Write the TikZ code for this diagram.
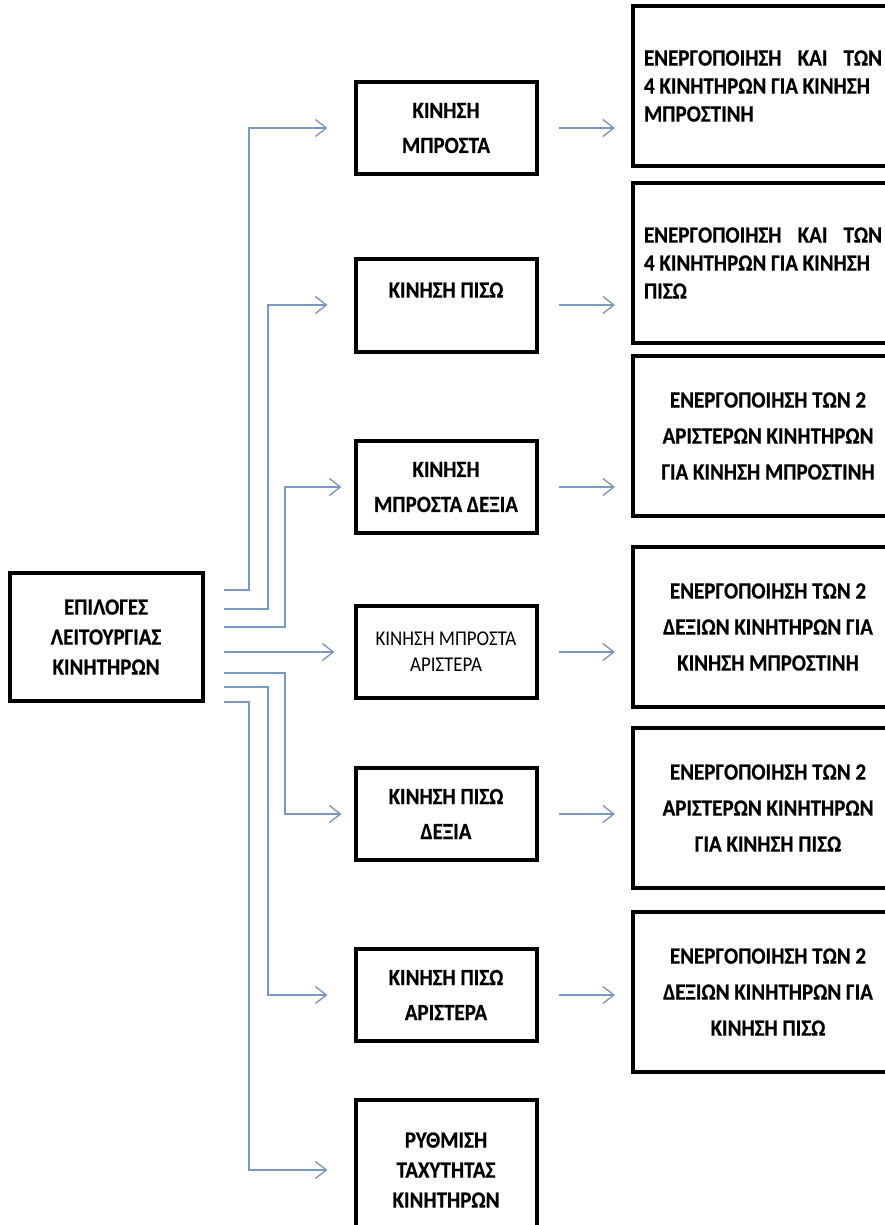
\documentclass[tikz,border=0pt]{standalone}
\usepackage{fontspec}
\setmainfont{Carlito}[FakeStretch=0.9, BoldFeatures={FakeBold=0.4}]
\usepackage{xcolor}
\usepackage{tikz}
\usetikzlibrary{arrows.meta, positioning, calc}
\definecolor{connblue}{RGB}{122,152,194}
\tikzstyle{mainbox} = [rectangle, draw=black, line width=4pt, minimum width=193pt, minimum height=128pt, text centered, align=center, font=\fontsize{23.3}{30}\selectfont\bfseries]
\tikzstyle{movebox} = [rectangle, draw=black, line width=4pt, minimum width=181pt, minimum height=92pt, text centered, align=center, font=\fontsize{23.3}{35}\selectfont\bfseries]
\tikzstyle{actbox} = [rectangle, draw=black, line width=4pt, minimum width=270pt, minimum height=160pt, text centered, align=center, font=\fontsize{23.3}{36}\selectfont\bfseries]
\tikzstyle{conn} = [line width=1.4pt, draw=connblue, -{Straight Barb[length=11pt,width=17pt]}]

\begin{document}
\begin{tikzpicture}[x=1pt, y=-1pt]
        \useasboundingbox (0,0) rectangle (885,1225);

        % Nodes
        \node (options) [mainbox] at (106,637) {ΕΠΙΛΟΓΕΣ\\ΛΕΙΤΟΥΡΓΙΑΣ\\ΚΙΝΗΤΗΡΩΝ};

        \node (fwd) [movebox] at (446,128) {ΚΙΝΗΣΗ\\ΜΠΡΟΣΤΑ};
        \node (back) [movebox, minimum height=93pt, text depth=30pt] at (446,305) {ΚΙΝΗΣΗ ΠΙΣΩ};
        \node (fwdright) [movebox] at (446,487) {ΚΙΝΗΣΗ\\ΜΠΡΟΣΤΑ ΔΕΞΙΑ};
        \node (fwdleft) [movebox, font=\fontsize{21}{26}\selectfont] at (446,652) {ΚΙΝΗΣΗ ΜΠΡΟΣΤΑ\\ΑΡΙΣΤΕΡΑ};
        \node (backright) [movebox] at (446,814) {ΚΙΝΗΣΗ ΠΙΣΩ\\ΔΕΞΙΑ};
        \node (backleft) [movebox] at (446,995) {ΚΙΝΗΣΗ ΠΙΣΩ\\ΑΡΙΣΤΕΡΑ};
        \node (speed) [movebox, minimum height=140pt, font=\fontsize{23.3}{30}\selectfont\bfseries] at (446,1170) {ΡΥΘΜΙΣΗ\\ΤΑΧΥΤΗΤΑΣ\\ΚΙΝΗΤΗΡΩΝ};

        \node (actfwd) [actbox, minimum width=260pt, text width=238pt, align=flush left, font=\fontsize{23.3}{28}\selectfont\bfseries] at (763,86) {ΕΝΕΡΓΟΠΟΙΗΣΗ\hfill ΚΑΙ\hfill ΤΩΝ\\4 ΚΙΝΗΤΗΡΩΝ ΓΙΑ ΚΙΝΗΣΗ\\ΜΠΡΟΣΤΙΝΗ};
        \node (actback) [actbox, minimum width=260pt, text width=238pt, align=flush left, font=\fontsize{23.3}{28}\selectfont\bfseries] at (763,263) {ΕΝΕΡΓΟΠΟΙΗΣΗ\hfill ΚΑΙ\hfill ΤΩΝ\\4 ΚΙΝΗΤΗΡΩΝ ΓΙΑ ΚΙΝΗΣΗ\\ΠΙΣΩ};
        \node (actleftfwd) [actbox] at (768,436) {ΕΝΕΡΓΟΠΟΙΗΣΗ ΤΩΝ 2\\ΑΡΙΣΤΕΡΩΝ ΚΙΝΗΤΗΡΩΝ\\ΓΙΑ ΚΙΝΗΣΗ ΜΠΡΟΣΤΙΝΗ};
        \node (actrightfwd) [actbox] at (768,627) {ΕΝΕΡΓΟΠΟΙΗΣΗ ΤΩΝ 2\\ΔΕΞΙΩΝ ΚΙΝΗΤΗΡΩΝ ΓΙΑ\\ΚΙΝΗΣΗ ΜΠΡΟΣΤΙΝΗ};
        \node (actleftback) [actbox] at (768,808) {ΕΝΕΡΓΟΠΟΙΗΣΗ ΤΩΝ 2\\ΑΡΙΣΤΕΡΩΝ ΚΙΝΗΤΗΡΩΝ\\ΓΙΑ ΚΙΝΗΣΗ ΠΙΣΩ};
        \node (actrightback) [actbox] at (768,992) {ΕΝΕΡΓΟΠΟΙΗΣΗ ΤΩΝ 2\\ΔΕΞΙΩΝ ΚΙΝΗΤΗΡΩΝ ΓΙΑ\\ΚΙΝΗΣΗ ΠΙΣΩ};

        % Branch start points and trunks
        \coordinate (s1) at (224,590);
        \coordinate (s2) at (224,609);
        \coordinate (s3) at (224,627);
        \coordinate (s4) at (224,652);
        \coordinate (s5) at (224,673);
        \coordinate (s6) at (224,687);
        \coordinate (s7) at (224,702);
        \coordinate (t1) at (249,0);
        \coordinate (t2) at (268,0);
        \coordinate (t3) at (285,0);

        % Arrows
        \draw [conn, shorten >=26pt] (s1) -| (t1 |- fwd.west) -- (fwd.west);
        \draw [conn, shorten >=26pt] (s2) -| (t2 |- back.west) -- (back.west);
        \draw [conn, shorten >=12pt] (s3) -| (t3 |- fwdright.west) -- (fwdright.west);
        \draw [conn, shorten >=19pt] (s4) -- (fwdleft.west);
        \draw [conn, shorten >=12pt] (s5) -| (t3 |- backright.west) -- (backright.west);
        \draw [conn, shorten >=26pt] (s6) -| (t2 |- backleft.west) -- (backleft.west);
        \draw [conn, shorten >=26pt] (s7) -| (t1 |- speed.west) -- (speed.west);

        \draw [conn, shorten <=20pt, shorten >=16pt] (fwd.east) -- (fwd.east -| actfwd.west);
        \draw [conn, shorten <=20pt, shorten >=16pt] (back.east) -- (back.east -| actback.west);
        \draw [conn, shorten <=20pt, shorten >=16pt] (fwdright.east) -- (fwdright.east -| actleftfwd.west);
        \draw [conn, shorten <=20pt, shorten >=16pt] (fwdleft.east) -- (fwdleft.east -| actrightfwd.west);
        \draw [conn, shorten <=20pt, shorten >=16pt] (backright.east) -- (backright.east -| actleftback.west);
        \draw [conn, shorten <=20pt, shorten >=16pt] (backleft.east) -- (backleft.east -| actrightback.west);

\end{tikzpicture}
\end{document}
